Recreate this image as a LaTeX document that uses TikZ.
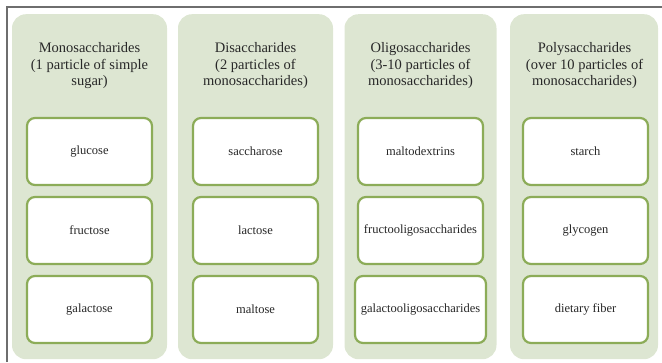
\documentclass[tikz,border=0pt]{standalone}
\usepackage{fontspec}
\setmainfont{Liberation Serif}
\definecolor{colfill}{RGB}{221,230,210}
\definecolor{boxline}{RGB}{140,172,88}
\definecolor{txt}{RGB}{40,40,40}
\definecolor{frame}{RGB}{110,110,110}
\begin{document}
\begin{tikzpicture}[x=1pt,y=1pt,
  colbox/.style={fill=colfill,draw=none,rounded corners=14pt,minimum height=345pt,inner sep=0pt,anchor=north},
  title/.style={align=center,text=txt,font=\fontsize{14.5}{16.5}\selectfont},
  item/.style={draw=boxline,line width=2.2pt,fill=white,rounded corners=8pt,minimum width=125pt,minimum height=67pt,inner sep=0pt,text=txt,font=\fontsize{12.5}{14}\selectfont}]
\useasboundingbox (0,0) rectangle (662,-362);
\draw[frame,line width=1.2pt] (7,-362) -- (7,-7) -- (662,-7);
% columns
\node[colbox,minimum width=155pt] (c1) at (89.5,-14) {};
\node[colbox,minimum width=155pt] (c2) at (255.5,-14) {};
\node[colbox,minimum width=152pt] (c3) at (420.5,-14) {};
\node[colbox,minimum width=148pt] (c4) at (584,-14) {};
% titles
\node[title] (t1) at (89.5,-66) {Monosaccharides\\(1 particle of simple\\sugar)};
\node[title] (t2) at (255.5,-66) {Disaccharides\\(2 particles of\\monosaccharides)};
\node[title] (t3) at (420.5,-66) {Oligosaccharides\\(3-10 particles of\\monosaccharides)};
\node[title] (t4) at (584.5,-66) {Polysaccharides\\(over 10 particles of\\monosaccharides)};
% items
\node[item] (a1) at (89.5,-151.5) {glucose};
\node[item] (a2) at (89.5,-230.5) {fructose};
\node[item] (a3) at (89.5,-309.5) {galactose};
\node[item] (b1) at (255.5,-151.5) {saccharose};
\node[item] (b2) at (255.5,-230.5) {lactose};
\node[item] (b3) at (255.5,-309.5) {maltose};
\node[item] (d1) at (420.5,-151.5) {maltodextrins};
\node[item] (d2) at (420.5,-230.5) {fructooligosaccharides};
\node[item,minimum width=131pt] (d3) at (420.5,-309.5) {galactooligosaccharides};
\node[item] (e1) at (585.5,-151.5) {starch};
\node[item] (e2) at (585.5,-230.5) {glycogen};
\node[item] (e3) at (585.5,-309.5) {dietary fiber};
\end{tikzpicture}
\end{document}
